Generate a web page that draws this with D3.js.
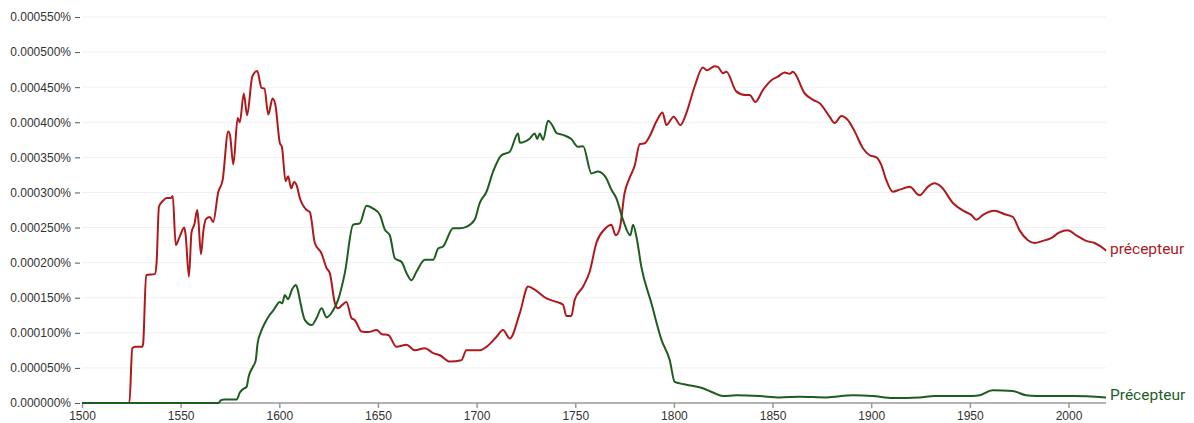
<!DOCTYPE html>
<html>
<head>
<meta charset="utf-8">
<script src="https://cdn.jsdelivr.net/npm/d3@7"></script>
<style>
  html, body { margin: 0; padding: 0; background: #fff; }
  svg { display: block; font-family: Roboto, "Noto Sans", Arial, sans-serif; }
</style>
</head>
<body>
<svg id="chart" width="1194" height="423"></svg>
<script>
// Values in units of 1e-6 percent
const seriesNames = ["précepteur", "Précepteur"];
const yTicks = [0, 50, 100, 150, 200, 250, 300, 350, 400, 450, 500, 550];
const xTicks = [1500, 1550, 1600, 1650, 1700, 1750, 1800, 1850, 1900, 1950, 2000];

const redYears = [1500,1524,1525.5,1527,1530.5,1531,1532.5,1537,1537.8,1539,1541,1543,1545,1546,1547.5,1549.5,1551.8,1552.5,1554.2,1555.5,1557,1558.4,1559,1560.3,1561.5,1562.8,1564.8,1566.5,1569,1571.3,1574.1,1575,1576.7,1578.9,1580,1582,1583.7,1586.3,1588.8,1591,1592.5,1594.4,1596.6,1598,1600.3,1601.3,1603.2,1604.5,1606,1607.5,1608.8,1610.4,1613.8,1615.5,1618,1621.4,1624,1625.6,1628.2,1629.8,1632,1634,1636.6,1638.3,1641.7,1645,1649.3,1652,1655.2,1659.4,1664.5,1668.7,1673.8,1678,1681.4,1686.4,1692.3,1694.8,1701.6,1705,1710,1713.4,1716.8,1721.9,1726.1,1728.6,1735.4,1740.5,1743.8,1745.5,1748,1749.7,1754,1757.3,1760.7,1765,1768.3,1770.5,1772.5,1775,1777.6,1780.1,1782.7,1785.2,1787.7,1791.1,1794.2,1796.2,1799.9,1803.3,1806.3,1810.5,1814.7,1816.7,1820.7,1822.3,1824.9,1826.6,1831.6,1835.9,1838.4,1841.3,1845.1,1849.4,1852.7,1856.1,1858.7,1860.3,1866.3,1870.5,1873.9,1878.9,1881.5,1884.9,1888.2,1891.6,1895.8,1899.2,1902.6,1905,1907.6,1911,1914.4,1919.5,1924.5,1928.7,1932.1,1935.5,1941.4,1947.3,1950.7,1953.3,1956.6,1962.5,1967.6,1971.8,1975.2,1979.4,1982.8,1987,1991.2,1995.4,1999.6,2003.9,2008.9,2013.2,2018.2,2019];
const redValues = [0,0,78,80,80,85,182,184,200,280,288,292,292,295,225,237,250,240,180,243,255,275,260,212,245,262,265,258,300,318,387,382,340,406,400,441,410,465,473,449,448,411,434,425,370,365,316,323,306,315,310,292,275,272,228,213,192,185,142,135,140,144,121,118,102,101,104,98,97,80,83,75,78,71,68,59,61,75,75,80,94,104,92,128,166,163,149,144,140,124,124,147,166,187,228,248,254,239,248,299,321,338,369,370,380,401,414,396,408,396,413,451,478,474,480,479,470,472,444,439,439,429,446,460,465,471,469,472,441,432,427,408,399,409,403,387,363,353,350,340,318,301,304,308,296,308,313,308,285,273,268,261,268,274,269,265,246,232,228,231,235,243,246,239,231,228,219,217];

const greenYears = [1500,1569,1570.5,1572,1578.4,1580,1581.7,1583.4,1584.5,1586.7,1588,1589,1590.5,1592.7,1595,1597,1600.3,1601.5,1602.8,1604.4,1606.5,1608.4,1609.5,1610.4,1613,1616.4,1618.9,1621.4,1624,1627.3,1629.8,1633.2,1637.4,1640.8,1644.2,1647.6,1651,1653.5,1656,1658.6,1662,1664.5,1667,1669.5,1673.8,1678,1680.5,1683,1688.1,1691.5,1694.8,1699,1701.6,1705,1708.4,1712.6,1716.8,1721,1721.9,1727,1729.5,1730.7,1732,1733.7,1736.2,1738.7,1740.4,1743.8,1748,1751.4,1754,1758.2,1761.6,1765.8,1768.3,1770.8,1774.2,1777.9,1779.3,1781,1783.5,1788.6,1793.7,1797.9,1800.4,1803,1806.3,1814.7,1819.8,1824.9,1831.6,1843.4,1853.6,1863.7,1877.2,1890.7,1900.8,1911,1924.5,1932.1,1951.5,1954.9,1961.6,1971.8,1978.5,1983.6,2002.2,2019];
const greenValues = [0,0,4,5,5,15,20,23,38,52,60,85,100,114,125,132,144,142,154,148,162,168,160,147,118,111,121,135,122,132,147,185,254,256,281,277,268,247,239,206,201,185,175,187,204,204,220,223,249,249,251,261,285,301,330,353,358,384,371,377,384,376,384,375,402,394,385,382,376,365,366,327,330,320,304,292,261,239,254,237,194,142,90,61,30,28,26,21,15,10,11,10,8,9,8,11,10,7,8,10,10,11,18,17,11,10,10,8];

const colors = ["#b0191c", "#1d5e1f"];

const svg = d3.select("#chart");
const x = d3.scaleLinear().domain([1500, 2019]).range([82, 1106]);
const y = d3.scaleLinear().domain([0, 550]).range([403, 17]);

// gridlines
svg.append("g").selectAll("line").data(yTicks.slice(1)).join("line")
  .attr("x1", x(1500)).attr("x2", x(2019))
  .attr("y1", d => y(d)).attr("y2", d => y(d))
  .attr("stroke", "#f0f0f0").attr("stroke-width", 1);

// y axis
const yAxis = d3.axisLeft(y).tickValues(yTicks).tickSize(6).tickPadding(4)
  .tickFormat(d => (d / 1e6).toFixed(6) + "%");
const gy = svg.append("g").attr("transform", "translate(81,0)").call(yAxis);
gy.select(".domain").remove();
gy.selectAll(".tick line").attr("stroke", "#555").attr("x1", -1).attr("x2", -6);
gy.selectAll(".tick text").attr("fill", "#333").style("font-size", "12px");

// x axis
const xAxis = d3.axisBottom(x).tickValues(xTicks).tickSize(5).tickPadding(3).tickFormat(d3.format("d"));
const gx = svg.append("g").attr("transform", "translate(0,403)").call(xAxis);
gx.select(".domain").attr("stroke", "#999").attr("stroke-width", 1.5).attr("d", `M${x(1500)},0H${x(2019)}`);
gx.selectAll(".tick line").attr("stroke", "#999").attr("stroke-width", 1.5);
gx.selectAll(".tick text").attr("fill", "#333").style("font-size", "12px");

const line = d3.line().x(d => x(d[0])).y(d => y(d[1])).curve(d3.curveMonotoneX);

const series = [
  { name: seriesNames[0], data: redYears.map((yr, i) => [yr, redValues[i]]), color: colors[0] },
  { name: seriesNames[1], data: greenYears.map((yr, i) => [yr, greenValues[i]]), color: colors[1] }
];

series.forEach(s => {
  svg.append("path").datum(s.data)
    .attr("fill", "none").attr("stroke", s.color).attr("stroke-width", 2)
    .attr("stroke-linejoin", "round").attr("d", line);
  const last = s.data[s.data.length - 1];
  svg.append("text")
    .attr("x", x(last[0]) + 4).attr("y", y(last[1]))
    .attr("dy", "0.2em")
    .attr("fill", s.color)
    .style("font-size", "15.5px")
    .text(s.name);
});
</script>
</body>
</html>
